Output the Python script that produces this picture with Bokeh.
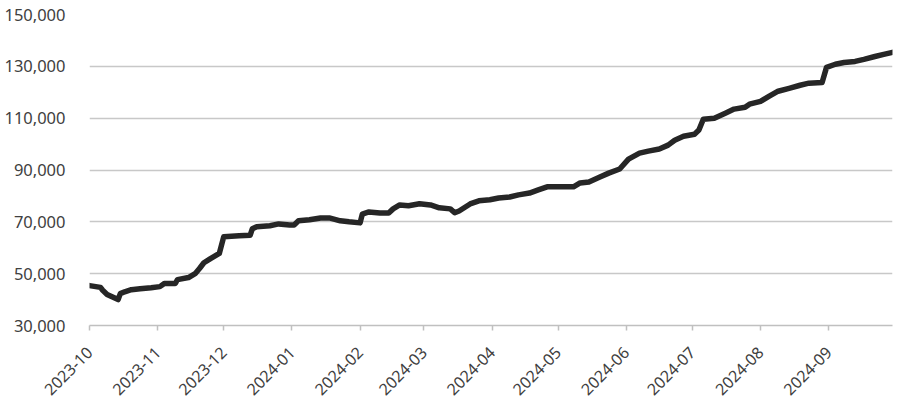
import math
import pandas as pd
from bokeh.plotting import figure
from bokeh.models import (ColumnDataSource, DatetimeTickFormatter, MonthsTicker,
                          NumeralTickFormatter, FixedTicker, Range1d)
from bokeh.embed import file_html
from bokeh.resources import INLINE

dates = [
    "2023-10-01", "2023-10-06", "2023-10-07", "2023-10-09", "2023-10-12", "2023-10-14",
    "2023-10-15", "2023-10-17", "2023-10-20", "2023-10-24", "2023-10-29", "2023-11-02",
    "2023-11-04", "2023-11-09", "2023-11-10", "2023-11-15", "2023-11-18", "2023-11-20",
    "2023-11-22", "2023-11-25", "2023-11-29", "2023-12-01", "2023-12-08", "2023-12-13",
    "2023-12-14", "2023-12-16", "2023-12-22", "2023-12-26", "2023-12-31", "2024-01-02",
    "2024-01-04", "2024-01-09", "2024-01-14", "2024-01-18", "2024-01-23", "2024-01-27",
    "2024-02-01", "2024-02-02", "2024-02-05", "2024-02-10", "2024-02-14", "2024-02-16",
    "2024-02-19", "2024-02-23", "2024-02-28", "2024-03-04", "2024-03-08", "2024-03-13",
    "2024-03-15", "2024-03-17", "2024-03-22", "2024-03-26", "2024-03-31", "2024-04-04",
    "2024-04-09", "2024-04-13", "2024-04-18", "2024-04-22", "2024-04-26", "2024-05-02",
    "2024-05-08", "2024-05-11", "2024-05-15", "2024-05-20", "2024-05-24", "2024-05-29",
    "2024-06-02", "2024-06-07", "2024-06-11", "2024-06-16", "2024-06-20", "2024-06-23",
    "2024-06-27", "2024-07-02", "2024-07-04", "2024-07-06", "2024-07-11", "2024-07-16",
    "2024-07-20", "2024-07-25", "2024-07-27", "2024-08-01", "2024-08-05", "2024-08-09",
    "2024-08-14", "2024-08-19", "2024-08-23", "2024-08-29", "2024-08-31", "2024-09-04",
    "2024-09-08", "2024-09-13", "2024-09-17", "2024-09-22", "2024-09-26", "2024-09-30",
]
values = [
    45400, 44700, 43600, 42000, 40800, 40000,
    42300, 43000, 43800, 44200, 44600, 45000,
    46200, 46200, 47700, 48500, 50000, 52000,
    54200, 55800, 57800, 64200, 64600, 64800,
    67300, 68100, 68500, 69200, 68800, 68800,
    70400, 70800, 71500, 71500, 70400, 70000,
    69600, 73000, 73800, 73400, 73400, 75000,
    76500, 76200, 77000, 76500, 75400, 75000,
    73500, 74200, 76900, 78100, 78500, 79200,
    79600, 80400, 81100, 82300, 83500, 83500,
    83500, 85000, 85400, 87300, 88800, 90400,
    94200, 96500, 97300, 98100, 99600, 101500,
    103000, 103800, 105400, 109600, 110000, 111900,
    113500, 114200, 115400, 116500, 118500, 120400,
    121500, 122700, 123500, 123800, 129600, 130800,
    131500, 131900, 132700, 133800, 134600, 135400,
]
y_ticks = [30000, 50000, 70000, 90000, 110000, 130000, 150000]

src = ColumnDataSource(dict(x=pd.to_datetime(dates), y=values))

p = figure(width=898, height=404, x_axis_type="datetime",
           output_backend="svg", toolbar_location=None,
           x_range=Range1d(pd.Timestamp("2023-10-01"), pd.Timestamp("2024-09-30")),
           y_range=Range1d(30000, 150000),
           min_border_left=89, min_border_right=6, min_border_top=14, min_border_bottom=79)
p.outline_line_color = None
p.background_fill_color = "white"
p.border_fill_color = "white"

p.line("x", "y", source=src, line_color="#262626", line_width=5.5,
       line_join="round", line_cap="round")

p.xgrid.grid_line_color = None
p.ygrid.grid_line_color = "#c8c8c8"
p.ygrid.grid_line_width = 1.5

font = "Noto Sans"
ya = p.yaxis[0]
ya.ticker = FixedTicker(ticks=y_ticks)
ya.formatter = NumeralTickFormatter(format="0,0")
ya.axis_line_color = None
ya.major_tick_line_color = None
ya.minor_tick_line_color = None
ya.major_label_standoff = 18
ya.major_label_text_font = font
ya.major_label_text_font_size = "16.5px"
ya.major_label_text_color = "#404040"

xa = p.xaxis[0]
xa.ticker = MonthsTicker(months=list(range(12)))
xa.formatter = DatetimeTickFormatter(months="%Y-%m", days="%Y-%m")
xa.axis_line_color = "#c0c0c0"
xa.axis_line_width = 1.5
xa.major_tick_line_color = "#c0c0c0"
xa.major_tick_line_width = 1.5
xa.major_tick_in = 0
xa.major_tick_out = 5
xa.minor_tick_line_color = None
xa.major_label_orientation = math.pi / 4
xa.major_label_standoff = 19
xa.major_label_text_font = font
xa.major_label_text_font_size = "16px"
xa.major_label_text_color = "#404040"

open("out.html", "w").write(file_html(p, INLINE))
